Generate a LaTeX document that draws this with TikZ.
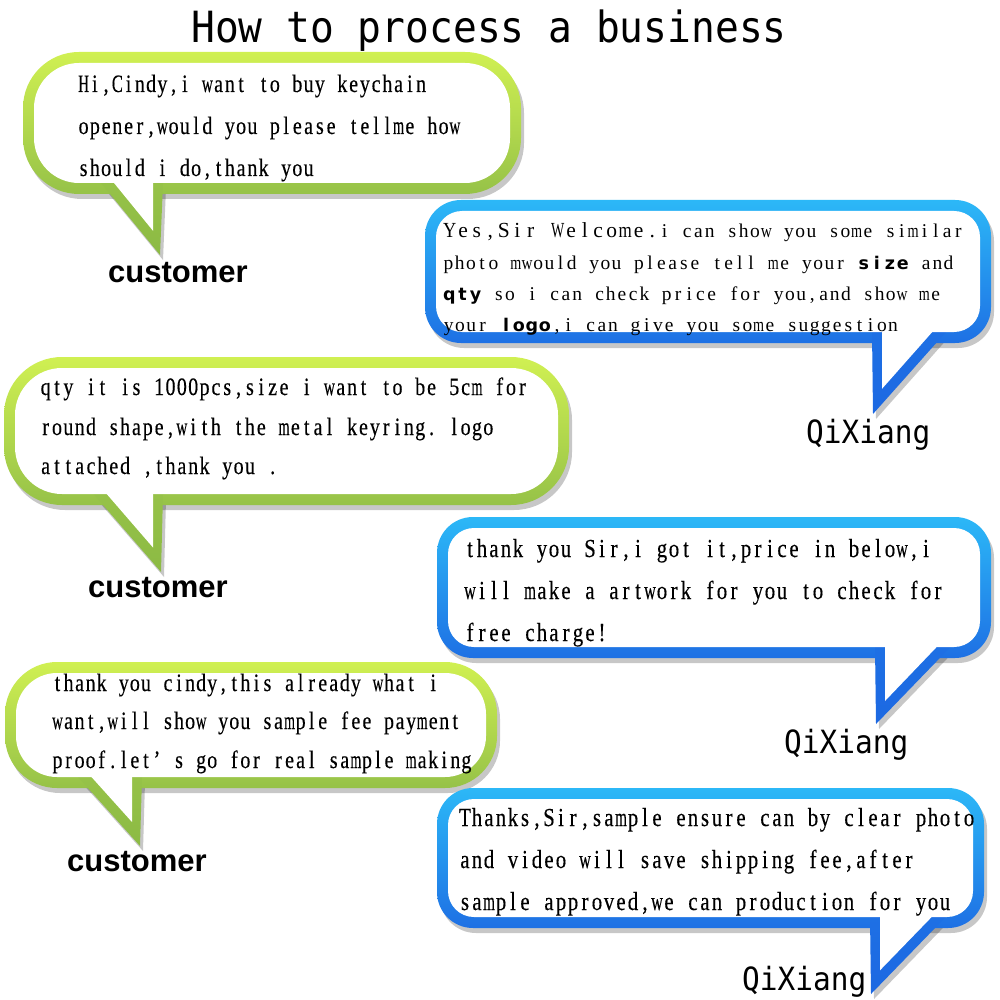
\documentclass[tikz,border=0pt]{standalone}
\usepackage{fontspec}
\usepackage{graphicx}
\setmainfont{Liberation Serif}
\newfontfamily\simfont[FakeStretch=0.8,FakeBold=0.3]{Liberation Serif}
\newfontfamily\serfont{Liberation Serif}
\newfontfamily\heifont[FakeStretch=0.92]{DejaVu Sans Mono}
\newfontfamily\labfont{Liberation Sans}
\newfontfamily\boldfont{DejaVu Sans}
\ExplSyntaxOn
\box_new:N \l_mycell_box
\NewDocumentCommand\cells{mm}{
  \str_map_inline:nn {#2}
  {
    \hbox_set:Nn \l_mycell_box {##1}
    \fp_compare:nNnT { \dim_to_fp:n { \box_wd:N \l_mycell_box } } > { 0.98 * \dim_to_fp:n {#1} }
    {
      \box_scale:Nnn \l_mycell_box
        { \fp_eval:n { 0.98 * \dim_to_fp:n {#1} / \dim_to_fp:n { \box_wd:N \l_mycell_box } } } {1}
    }
    \makebox[#1][c]{\box_use:N \l_mycell_box}
  }
}
\ExplSyntaxOff
\definecolor{gtop}{RGB}{208,240,82}
\definecolor{gbot}{RGB}{150,194,72}
\definecolor{gtail}{RGB}{140,186,68}
\definecolor{btop}{RGB}{44,184,247}
\definecolor{bbot}{RGB}{30,112,228}
\definecolor{btail}{RGB}{28,104,226}
\tikzset{
  bshadow/.style={fill=black,opacity=0.22},
  txt/.style={anchor=base west,inner sep=0pt,outer sep=0pt},
  sim/.style={font={\simfont\fontsize{#1}{#1}\selectfont}},
  smallser/.style={font={\serfont\fontsize{19.5}{19.5}\selectfont}},
  cust/.style={anchor=base west,inner sep=0pt,font={\labfont\bfseries\fontsize{31}{31}\selectfont}},
  qix/.style={anchor=base west,inner sep=0pt,font={\heifont\fontsize{32}{32}\selectfont}},
}
% #1 colour prefix, #2-#5 outer box, #6 outer radius, #7 inner radius,
% #8 outer tail polygon, #9 inner tail polygon
\newcommand\bubble[9]{%
  \fill[bshadow,xshift=3pt,yshift=-5pt,rounded corners=#6pt] (#2,#3) rectangle (#4,#5);
  \fill[bshadow,xshift=3pt,yshift=-5pt] #8 -- cycle;
  \shade[top color=#1top,bottom color=#1bot,rounded corners=#6pt] (#2,#3) rectangle (#4,#5);
  \shade[top color=#1bot,bottom color=#1tail] #8 -- cycle;
  \fill[white,rounded corners=#7pt] (#2+11,#3+11) rectangle (#4-11,#5-11);
  \fill[white] #9 -- cycle;
}
\newcommand\bold[1]{{\boldfont\bfseries\fontsize{17.5}{17.5}\selectfont\cells{13pt}{#1}}}
\begin{document}
\begin{tikzpicture}[x=1pt,y=-1pt]
\useasboundingbox (0,0) rectangle (1000,1000);
\fill[white] (0,0) rectangle (1000,1000);

% title
\node[anchor=base,inner sep=0pt,font={\heifont\fontsize{43}{43}\selectfont}] (title) at (489,43) {How to process a business};

% bubbles
\bubble{g}{23}{52}{521}{194}{56}{45}{(101,183) -- (160,255) -- (163,183)}{(112.4,181) -- (153,230.8) -- (153,181)}
\bubble{b}{425}{200}{991}{343}{36}{26}{(872,332) -- (873,414) -- (946,332)}{(882,330) -- (882,388.8) -- (934,330)}
\bubble{g}{4}{357}{569}{505}{58}{47}{(93.5,494) -- (161,572) -- (163,494)}{(105,492) -- (153,547.5) -- (153,492)}
\bubble{b}{437}{517}{991}{658}{36}{26}{(875,647) -- (876,724) -- (950.5,647)}{(885,645) -- (885,701) -- (938.6,645)}
\bubble{g}{5}{662}{497}{788}{52}{41}{(78,777) -- (140,846) -- (142,777)}{(89.7,775) -- (132,822) -- (132,775)}
\bubble{b}{437}{788}{984}{928}{36}{26}{(870,917) -- (871,994) -- (945.7,917)}{(880,915) -- (880,970.3) -- (933.6,915)}

% bubble 1
\node[txt,sim=25] (b1a) at (78,92) {\cells{11.25pt}{Hi,Cindy,i want to buy keychain}};
\node[txt,sim=25] (b1b) at (78,134) {\cells{11.25pt}{opener,would you please tellme how}};
\node[txt,sim=25] (b1c) at (78,176) {\cells{11.25pt}{should i do,thank you}};
\node[cust] (c1) at (108,282) {customer};

% bubble 2
\node[txt,smallser] (b2a) at (443,237) {{\fontsize{21.5}{21.5}\selectfont\cells{13.5pt}{Yes,Sir Welcome.}}\cells{11.3pt}{i can show you some similar}};
\node[txt,smallser] (b2b) at (443,269) {\cells{11.2pt}{photo mwould you please tell me your }\bold{size}\cells{11.2pt}{ and}};
\node[txt,smallser] (b2c) at (443,300) {\bold{qty}\cells{11.2pt}{ so i can check price for you,and show me}};
\node[txt,smallser] (b2d) at (443,331) {\cells{11.3pt}{your }\bold{logo}\cells{11.2pt}{,i can give you some suggestion}};
\node[qix] (q2) at (806,443) {QiXiang};

% bubble 3
\node[txt,sim=25] (b3a) at (40,395) {\cells{11.35pt}{qty it is 1000pcs,size i want to be 5cm for}};
\node[txt,sim=25] (b3b) at (40,435) {\cells{11.35pt}{round shape,with the metal keyring. logo}};
\node[txt,sim=25] (b3c) at (40,474) {\cells{11.35pt}{attached ,thank you .}};
\node[cust] (c3) at (88,597) {customer};

% bubble 4
\node[txt,sim=26] (b4a) at (464,557) {\cells{12pt}{thank you Sir,i got it,price in below,i}};
\node[txt,sim=26] (b4b) at (464,599) {\cells{12pt}{will make a artwork for you to check for}};
\node[txt,sim=26] (b4c) at (464,641) {\cells{12pt}{free charge!}};
\node[qix] (q4) at (784,753) {QiXiang};

% bubble 5
\node[txt,sim=25] (b5a) at (52,691) {\cells{11.05pt}{thank you cindy,this already what i}};
\node[txt,sim=25] (b5b) at (52,729) {\cells{11.05pt}{want,will show you sample fee payment}};
\node[txt,sim=25] (b5c) at (52,768) {\cells{11.05pt}{proof.let’ s go for real sample making}};
\node[cust] (c5) at (67,871) {customer};

% bubble 6
\node[txt,sim=26] (b6a) at (459,826) {\cells{12pt}{Thanks,Sir,sample ensure can by clear photo}};
\node[txt,sim=26] (b6b) at (459,868) {\cells{12pt}{and video will save shipping fee,after}};
\node[txt,sim=26] (b6c) at (459,910) {\cells{12pt}{sample approved,we can production for you}};
\node[qix] (q6) at (742,990) {QiXiang};
\end{tikzpicture}
\end{document}
